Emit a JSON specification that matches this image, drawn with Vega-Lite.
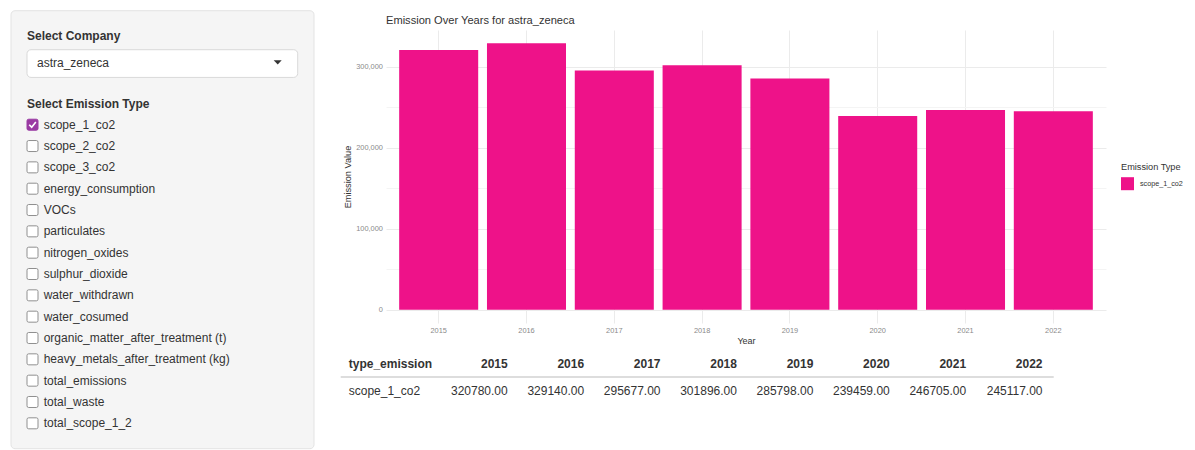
{
  "$schema": "https://vega.github.io/schema/vega-lite/v6.json",
  "background": "white",
  "padding": {"left": 10, "top": 10, "right": 0, "bottom": 0},
  "config": {
    "font": "Liberation Sans",
    "view": {"stroke": null}
  },
  "datasets": {
    "emissions": [
      {"type_emission": "scope_1_co2", "year": 2015, "value": 320780},
      {"type_emission": "scope_1_co2", "year": 2016, "value": 329140},
      {"type_emission": "scope_1_co2", "year": 2017, "value": 295677},
      {"type_emission": "scope_1_co2", "year": 2018, "value": 301896},
      {"type_emission": "scope_1_co2", "year": 2019, "value": 285798},
      {"type_emission": "scope_1_co2", "year": 2020, "value": 239459},
      {"type_emission": "scope_1_co2", "year": 2021, "value": 246705},
      {"type_emission": "scope_1_co2", "year": 2022, "value": 245117}
    ],
    "options": [
      {"label": "scope_1_co2", "idx": 0, "checked": true},
      {"label": "scope_2_co2", "idx": 1, "checked": false},
      {"label": "scope_3_co2", "idx": 2, "checked": false},
      {"label": "energy_consumption", "idx": 3, "checked": false},
      {"label": "VOCs", "idx": 4, "checked": false},
      {"label": "particulates", "idx": 5, "checked": false},
      {"label": "nitrogen_oxides", "idx": 6, "checked": false},
      {"label": "sulphur_dioxide", "idx": 7, "checked": false},
      {"label": "water_withdrawn", "idx": 8, "checked": false},
      {"label": "water_cosumed", "idx": 9, "checked": false},
      {"label": "organic_matter_after_treatment (t)", "idx": 10, "checked": false},
      {"label": "heavy_metals_after_treatment (kg)", "idx": 11, "checked": false},
      {"label": "total_emissions", "idx": 12, "checked": false},
      {"label": "total_waste", "idx": 13, "checked": false},
      {"label": "total_scope_1_2", "idx": 14, "checked": false}
    ]
  },
  "spacing": 24,
  "hconcat": [
    {
      "width": 303,
      "height": 418.7,
      "layer": [
        {
          "data": {"values": [{}]},
          "mark": {"type": "rect", "fill": "#f5f5f5", "stroke": "#e3e3e3", "strokeWidth": 1, "cornerRadius": 4},
          "encoding": {
            "x": {"datum": 0, "type": "quantitative", "scale": {"domain": [0, 100], "nice": false, "zero": false}, "axis": null},
            "x2": {"datum": 100},
            "y": {"datum": -5.344, "type": "quantitative", "scale": {"domain": [-4.44, 15.19], "nice": false, "zero": false, "reverse": true}, "axis": null},
            "y2": {"datum": 15.19}
          }
        },
        {
          "data": {"values": [{}]},
          "mark": {"type": "rect", "fill": "white", "stroke": "#d9d9d9", "strokeWidth": 1, "cornerRadius": 4},
          "encoding": {
            "x": {"datum": 5.28, "type": "quantitative", "scale": {"domain": [0, 100], "nice": false, "zero": false}, "axis": null},
            "x2": {"datum": 94.62},
            "y": {"datum": -3.516, "type": "quantitative", "scale": {"domain": [-4.44, 15.19], "nice": false, "zero": false, "reverse": true}, "axis": null},
            "y2": {"datum": -2.217}
          }
        },
        {
          "data": {"values": [{}]},
          "mark": {"type": "text", "text": "Select Company", "fontWeight": "bold", "fontSize": 12, "align": "left", "baseline": "middle", "color": "#333333"},
          "encoding": {
            "x": {"datum": 5.28, "type": "quantitative", "scale": {"domain": [0, 100], "nice": false, "zero": false}, "axis": null},
            "y": {"datum": -4.172, "type": "quantitative", "scale": {"domain": [-4.44, 15.19], "nice": false, "zero": false, "reverse": true}, "axis": null}
          }
        },
        {
          "data": {"values": [{}]},
          "mark": {"type": "text", "text": "astra_zeneca", "fontSize": 12, "align": "left", "baseline": "middle", "color": "#333333"},
          "encoding": {
            "x": {"datum": 8.58, "type": "quantitative", "scale": {"domain": [0, 100], "nice": false, "zero": false}, "axis": null},
            "y": {"datum": -2.88, "type": "quantitative", "scale": {"domain": [-4.44, 15.19], "nice": false, "zero": false, "reverse": true}, "axis": null}
          }
        },
        {
          "data": {"values": [{}]},
          "mark": {"type": "point", "shape": "M -1 -0.55 L 1 -0.55 L 0 0.55 Z", "filled": true, "size": 64, "color": "#333333", "opacity": 1},
          "encoding": {
            "x": {"datum": 88.02, "type": "quantitative", "scale": {"domain": [0, 100], "nice": false, "zero": false}, "axis": null},
            "y": {"datum": -2.92, "type": "quantitative", "scale": {"domain": [-4.44, 15.19], "nice": false, "zero": false, "reverse": true}, "axis": null}
          }
        },
        {
          "data": {"values": [{}]},
          "mark": {"type": "text", "text": "Select Emission Type", "fontWeight": "bold", "fontSize": 12, "align": "left", "baseline": "middle", "color": "#333333"},
          "encoding": {
            "x": {"datum": 5.28, "type": "quantitative", "scale": {"domain": [0, 100], "nice": false, "zero": false}, "axis": null},
            "y": {"datum": -0.984, "type": "quantitative", "scale": {"domain": [-4.44, 15.19], "nice": false, "zero": false, "reverse": true}, "axis": null}
          }
        },
        {
          "data": {"name": "options"},
          "mark": {"type": "point", "shape": "M -0.7 -1 L 0.7 -1 Q 1 -1 1 -0.7 L 1 0.7 Q 1 1 0.7 1 L -0.7 1 Q -1 1 -1 0.7 L -1 -0.7 Q -1 -1 -0.7 -1 Z", "filled": true, "size": 121, "strokeWidth": 1, "opacity": 1},
          "encoding": {
            "x": {"datum": 7.1, "type": "quantitative", "scale": {"domain": [0, 100], "nice": false, "zero": false}, "axis": null},
            "y": {"field": "idx", "type": "quantitative", "scale": {"domain": [-4.44, 15.19], "nice": false, "zero": false, "reverse": true}, "axis": null},
            "fill": {"condition": {"test": "datum.checked", "value": "#9a3aa3"}, "value": "#ffffff"},
            "stroke": {"condition": {"test": "datum.checked", "value": "#9a3aa3"}, "value": "#8f8f8f"}
          }
        },
        {
          "data": {"name": "options"},
          "transform": [{"filter": "datum.checked"}],
          "mark": {"type": "point", "shape": "M -0.6 0 L -0.15 0.45 L 0.6 -0.5", "filled": false, "size": 121, "stroke": "#ffffff", "strokeWidth": 1.6, "opacity": 1},
          "encoding": {
            "x": {"datum": 7.1, "type": "quantitative", "scale": {"domain": [0, 100], "nice": false, "zero": false}, "axis": null},
            "y": {"field": "idx", "type": "quantitative", "scale": {"domain": [-4.44, 15.19], "nice": false, "zero": false, "reverse": true}, "axis": null}
          }
        },
        {
          "data": {"name": "options"},
          "mark": {"type": "text", "fontSize": 12, "align": "left", "baseline": "middle", "color": "#333333"},
          "encoding": {
            "x": {"datum": 10.79, "type": "quantitative", "scale": {"domain": [0, 100], "nice": false, "zero": false}, "axis": null},
            "y": {"field": "idx", "type": "quantitative", "scale": {"domain": [-4.44, 15.19], "nice": false, "zero": false, "reverse": true}, "axis": null},
            "text": {"field": "label"}
          }
        }
      ]
    },
    {
      "spacing": 5.5,
      "vconcat": [
        {
          "data": {"name": "emissions"},
          "width": 720,
          "height": 293,
          "title": {"text": "Emission Over Years for astra_zeneca", "anchor": "start", "frame": "group", "fontSize": 11.1, "fontWeight": "normal", "color": "#333333", "offset": 4.4},
          "mark": {"type": "bar"},
          "encoding": {
            "x": {
              "field": "year", "type": "ordinal", "title": "Year",
              "scale": {"paddingInner": 0.1, "paddingOuter": 0.15},
              "axis": {"labelAngle": 0, "bandPosition": 0.5, "grid": true, "gridColor": "#ebebeb", "gridWidth": 1, "ticks": false, "tickSize": 0, "domain": false, "labelFontSize": 7.4, "labelColor": "#8a8a8a", "labelPadding": 3.7, "titleFontSize": 9, "titleFontWeight": "normal", "titleColor": "#333333", "titlePadding": 2}
            },
            "y": {
              "field": "value", "type": "quantitative", "title": "Emission Value",
              "scale": {"domain": [-16457, 345597], "nice": false},
              "axis": {
                "values": [0, 50000, 100000, 150000, 200000, 250000, 300000],
                "labelExpr": "datum.value % 100000 === 0 ? format(datum.value, ',') : ''",
                "gridColor": {"condition": {"test": "datum.value % 100000 === 0", "value": "#ebebeb"}, "value": "#f4f4f4"},
                "gridWidth": 1, "ticks": false, "tickSize": 0, "domain": false, "labelFontSize": 7.4, "labelColor": "#8a8a8a", "labelPadding": 3.6, "titleFontSize": 9.2, "titleFontWeight": "normal", "titleColor": "#333333", "titlePadding": 3.5
              }
            },
            "color": {
              "field": "type_emission", "type": "nominal", "title": "Emission Type",
              "scale": {"range": ["#EE1289"]},
              "legend": {"orient": "none", "legendX": 1110, "legendY": 133, "titleFontSize": 9.2, "titleFontWeight": "normal", "titleColor": "#333333", "titlePadding": 5, "symbolType": "square", "symbolSize": 169, "symbolStrokeWidth": 0, "symbolOpacity": 1, "labelFontSize": 7.2, "labelColor": "#333333", "labelOffset": 6}
            }
          }
        },
        {
          "data": {"name": "emissions"},
          "width": 667.7,
          "height": 51,
          "layer": [
            {
              "data": {"values": [{}]},
              "mark": {"type": "rule", "color": "#dddddd", "strokeWidth": 2},
              "encoding": {
                "x": {"datum": 2012.814, "type": "quantitative", "scale": {"domain": [2013.407, 2022.146], "nice": false, "zero": false}, "axis": null},
                "x2": {"datum": 2022.146},
                "y": {"datum": "body", "type": "nominal", "bandPosition": 0, "scale": {"type": "band", "domain": ["header", "body"], "paddingInner": 0, "paddingOuter": 0}, "axis": null}
              }
            },
            {
              "mark": {"type": "text", "align": "right", "baseline": "middle", "fontWeight": "bold", "fontSize": 12, "color": "#333333"},
              "encoding": {
                "x": {"field": "year", "type": "quantitative", "scale": {"domain": [2013.407, 2022.146], "nice": false, "zero": false}, "axis": null},
                "y": {"datum": "header", "type": "nominal", "scale": {"type": "band", "domain": ["header", "body"], "paddingInner": 0, "paddingOuter": 0}, "axis": null},
                "text": {"field": "year", "type": "nominal"}
              }
            },
            {
              "mark": {"type": "text", "align": "right", "baseline": "middle", "dy": 1.5, "fontSize": 12, "color": "#333333"},
              "encoding": {
                "x": {"field": "year", "type": "quantitative", "scale": {"domain": [2013.407, 2022.146], "nice": false, "zero": false}, "axis": null},
                "y": {"datum": "body", "type": "nominal", "scale": {"type": "band", "domain": ["header", "body"], "paddingInner": 0, "paddingOuter": 0}, "axis": null},
                "text": {"field": "value", "type": "quantitative", "format": ".2f"}
              }
            },
            {
              "data": {"values": [{}]},
              "mark": {"type": "text", "text": "type_emission", "align": "left", "baseline": "middle", "fontWeight": "bold", "fontSize": 12, "color": "#333333"},
              "encoding": {
                "x": {"datum": 2012.919, "type": "quantitative", "scale": {"domain": [2013.407, 2022.146], "nice": false, "zero": false}, "axis": null},
                "y": {"datum": "header", "type": "nominal", "scale": {"type": "band", "domain": ["header", "body"], "paddingInner": 0, "paddingOuter": 0}, "axis": null}
              }
            },
            {
              "transform": [{"filter": "datum.year === 2015"}],
              "mark": {"type": "text", "align": "left", "baseline": "middle", "dy": 1.5, "fontSize": 12, "color": "#333333"},
              "encoding": {
                "x": {"datum": 2012.919, "type": "quantitative", "scale": {"domain": [2013.407, 2022.146], "nice": false, "zero": false}, "axis": null},
                "y": {"datum": "body", "type": "nominal", "scale": {"type": "band", "domain": ["header", "body"], "paddingInner": 0, "paddingOuter": 0}, "axis": null},
                "text": {"field": "type_emission"}
              }
            }
          ]
        }
      ]
    }
  ]
}
